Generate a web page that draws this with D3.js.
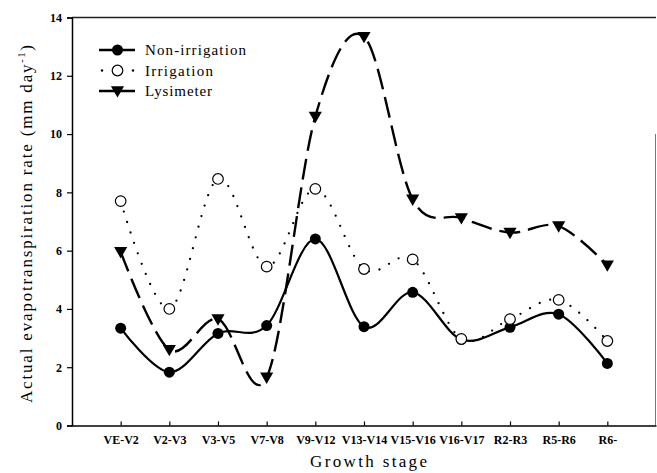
<!DOCTYPE html>
<html>
<head>
<meta charset="utf-8">
<script src="https://cdn.jsdelivr.net/npm/d3@7"></script>
<style>
  body { margin: 0; background: #fff; }
</style>
</head>
<body>
<div id="chart"></div>
<script>
var stages = ["VE-V2", "V2-V3", "V3-V5", "V7-V8", "V9-V12", "V13-V14", "V15-V16", "V16-V17", "R2-R3", "R5-R6", "R6-"];
var nonIrrigation = [3.34, 1.83, 3.16, 3.43, 6.4, 3.39, 4.57, 2.95, 3.37, 3.82, 2.13];
var irrigation = [7.7, 4.0, 8.46, 5.45, 8.12, 5.37, 5.7, 2.97, 3.65, 4.31, 2.9];
var lysimeter = [5.96, 2.6, 3.65, 1.65, 10.6, 13.34, 7.76, 7.12, 6.62, 6.84, 5.5];
var yTicks = [0, 2, 4, 6, 8, 10, 12, 14];

var serif = "'Liberation Serif', 'DejaVu Serif', serif";
var width = 657, height = 473;
var margin = { top: 17.5, right: 1, bottom: 47.5, left: 72 };

var svg = d3.select("#chart").append("svg")
  .attr("width", width)
  .attr("height", height)
  .attr("font-family", serif);

// stage i sits at i+1 on a 0..12 scale
var x = d3.scaleLinear()
  .domain([0, 12])
  .range([margin.left, width - margin.right]);

var y = d3.scaleLinear()
  .domain([0, 14])
  .range([height - margin.bottom, margin.top]);

// frame
svg.append("line")
  .attr("x1", x(0)).attr("x2", x(12))
  .attr("y1", y(14)).attr("y2", y(14))
  .attr("stroke", "#222").attr("stroke-width", 1.3);
svg.append("line")
  .attr("x1", x(12) - 0.5).attr("x2", x(12) - 0.5)
  .attr("y1", y(10.0)).attr("y2", y(0))
  .attr("stroke", "#777").attr("stroke-width", 1);

// axes
var yAxis = d3.axisLeft(y).tickValues(yTicks).tickSize(5).tickPadding(5);
var gy = svg.append("g")
  .attr("transform", "translate(" + x(0) + ",0)")
  .call(yAxis)
  .attr("font-family", serif);
gy.selectAll("text").style("font-size", "12px").style("font-weight", "bold");

var xAxis = d3.axisBottom(x)
  .tickValues(d3.range(1, 12))
  .tickFormat(function(d) { return stages[d - 1]; })
  .tickSizeInner(-4)
  .tickSizeOuter(0)
  .tickPadding(10);
var gx = svg.append("g")
  .attr("transform", "translate(0," + y(0) + ")")
  .call(xAxis)
  .attr("font-family", serif);
gx.selectAll("text").style("font-size", "12px").style("font-weight", "bold");

svg.selectAll(".domain").attr("stroke", "#000").attr("stroke-width", 1.5);
svg.selectAll(".tick line").attr("stroke", "#000").attr("stroke-width", 1.2);

// titles
svg.append("text")
  .attr("x", 310)
  .attr("y", 467)
  .attr("textLength", 117)
  .attr("lengthAdjust", "spacing")
  .style("font-size", "17px")
  .text("Growth stage");

var yt = svg.append("text")
  .attr("transform", "translate(32,403) rotate(-90)")
  .attr("textLength", 358)
  .attr("lengthAdjust", "spacing")
  .style("font-size", "17px");
yt.append("tspan").text("Actual evapotranspiration rate (mm day");
yt.append("tspan").attr("dy", -7).style("font-size", "10px").text("-1");
yt.append("tspan").attr("dy", 7).text(")");

// series
function pts(vals) {
  return vals.map(function(v, i) { return [x(i + 1), y(v)]; });
}
var line = d3.line().curve(d3.curveCardinal.tension(0));

var series = [
  { name: "Non-irrigation", len: 101, values: nonIrrigation, dash: null, width: 2.2, cap: "butt", marker: "filled" },
  { name: "Irrigation", len: 68, values: irrigation, dash: "0,11", width: 2.3, cap: "round", marker: "open" },
  { name: "Lysimeter", len: 67, values: lysimeter, dash: "21,8", width: 2.4, cap: "butt", marker: "tri" }
];

var tri = d3.symbol().type(d3.symbolTriangle).size(75);

function drawMarker(g, m, cx, cy) {
  if (m === "filled") {
    g.append("circle").attr("cx", cx).attr("cy", cy).attr("r", 5.5).attr("fill", "#000");
  } else if (m === "open") {
    g.append("circle").attr("cx", cx).attr("cy", cy).attr("r", 5.3)
      .attr("fill", "#fff").attr("stroke", "#000").attr("stroke-width", 1.2);
  } else {
    g.append("path").attr("d", tri)
      .attr("transform", "translate(" + cx + "," + (cy - 1) + ") rotate(180)")
      .attr("fill", "#000");
  }
}

// draw lines first (lysimeter, irrigation, non-irrigation), then markers
[2, 1, 0].forEach(function(k) {
  var s = series[k];
  svg.append("path")
    .attr("d", line(pts(s.values)))
    .attr("fill", "none")
    .attr("stroke", "#000")
    .attr("stroke-width", s.width)
    .attr("stroke-linecap", s.cap)
    .attr("stroke-dasharray", s.dash);
});
[2, 0, 1].forEach(function(k) {
  var s = series[k];
  var g = svg.append("g");
  pts(s.values).forEach(function(p) { drawMarker(g, s.marker, p[0], p[1]); });
});

// legend
var legend = svg.append("g");
series.forEach(function(s, i) {
  var ly = 50 + i * 20.5;
  if (s.marker === "open") {
    legend.append("circle").attr("cx", 102).attr("cy", ly).attr("r", 1.2).attr("fill", "#000");
    legend.append("circle").attr("cx", 133).attr("cy", ly).attr("r", 1.2).attr("fill", "#000");
  } else {
    legend.append("line")
      .attr("x1", 99).attr("x2", 135)
      .attr("y1", ly).attr("y2", ly)
      .attr("stroke", "#000").attr("stroke-width", 2.4);
  }
  drawMarker(legend, s.marker, 117.5, ly);
  legend.append("text")
    .attr("x", 145)
    .attr("y", ly + 5)
    .attr("textLength", s.len)
    .attr("lengthAdjust", "spacing")
    .style("font-size", "15px")
    .text(s.name);
});
</script>
</body>
</html>
